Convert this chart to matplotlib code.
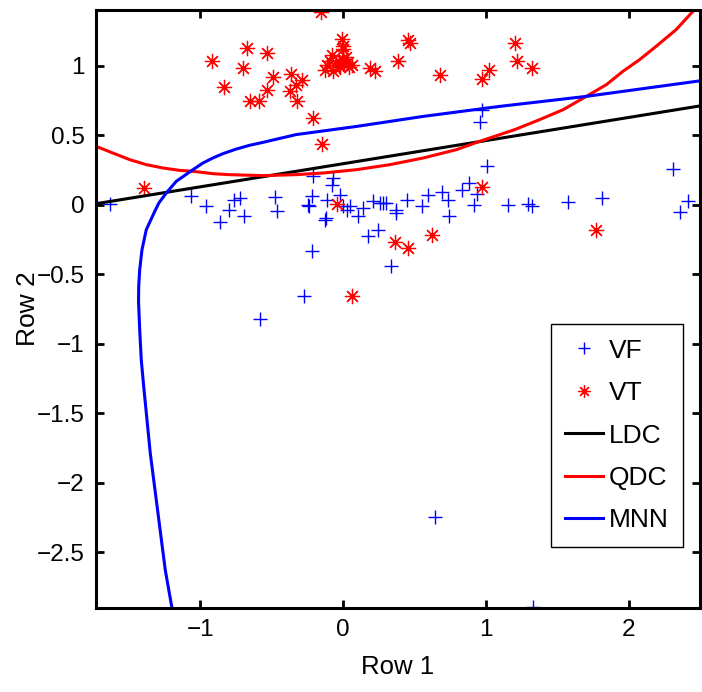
import matplotlib
matplotlib.use("Agg")
import matplotlib.pyplot as plt
from matplotlib import font_manager
from matplotlib.ticker import FixedLocator, FuncFormatter

names = {f.name for f in font_manager.fontManager.ttflist}
fam = ['Liberation Sans Narrow', 'Liberation Sans', 'DejaVu Sans']
fam = [f for f in fam if f in names] or ['DejaVu Sans']
plt.rcParams['font.family'] = fam

# VF (blue plus) points
vf_x = [-1.629, -1.063, -0.958, -0.860, -0.802, -0.767, -0.72, -0.697, -0.476, -0.459,
        -0.580, -0.273, -0.217, -0.126, -0.238, -0.219, -0.207, -0.068, -0.079, -0.114,
        -0.021, 0.002, 0.026, 0.049, 0.107, 0.142, 0.212, 0.259, 0.28, 0.30,
        0.371, 0.371, 0.445, 0.177, 0.247, 0.336, 0.555, 0.597, 0.694, 0.737,
        0.741, 0.83, 0.881, 0.935, 0.918, 1.009, 1.156, 1.296, 1.326, 1.576,
        1.813, 2.31, 2.357, 2.415, 0.970, 0.958, 0.643, 1.329, -0.245, -0.121]
vf_y = [0.005, 0.065, -0.012, -0.127, -0.041, 0.036, 0.048, -0.079, 0.055, -0.043,
        -0.822, -0.66, -0.336, -0.108, -0.012, 0.06, 0.204, 0.192, 0.144, 0.036,
        0.072, -0.012, -0.036, -0.012, -0.084, -0.024, 0.024, 0.012, 0.01, 0.012,
        -0.036, -0.06, 0.036, -0.228, -0.185, -0.439, -0.007, 0.067, 0.089, 0.031,
        -0.084, 0.108, 0.156, 0.079, 0.0, 0.276, -0.005, 0.005, -0.012, 0.019,
        0.048, 0.257, -0.053, 0.024, 0.678, 0.595, -2.245, -2.89, 0.0, -0.096]

# VT (red asterisk) points
vt_x = [-0.156, -0.005, 0.002, 0.457, 0.469, -0.669, -0.529, -0.918, 0.387, -0.701,
        0.189, 0.224, -0.492, -0.366, -0.284, -0.331, -0.837, -0.534, -0.371, -0.65,
        -0.587, -0.319, -0.207, -0.149, -1.396, -0.044, 0.678, 0.970, 1.023, 1.203,
        1.215, 1.324, 0.974, 1.769, 0.625, 0.364, 0.452, 0.061,
        -0.079, -0.114, -0.126, -0.068, 0.061, -0.05, -0.03, -0.01, 0.01, 0.03,
        -0.02, 0.0, 0.04, -0.09, 0.02, 0.002]
vt_y = [1.383, 1.19, 1.139, 1.187, 1.163, 1.127, 1.091, 1.036, 1.031, 0.983,
        0.983, 0.959, 0.919, 0.942, 0.899, 0.863, 0.847, 0.827, 0.815, 0.743,
        0.743, 0.743, 0.623, 0.439, 0.12, 0.007, 0.935, 0.906, 0.971, 1.163,
        1.031, 0.983, 0.127, -0.18, -0.216, -0.271, -0.312, -0.66,
        1.079, 1.007, 0.971, 0.959, 1.007, 1.02, 1.0, 1.04, 1.01, 1.02,
        0.99, 1.05, 0.99, 1.03, 1.06, 1.116]

# Decision boundaries
ldc_x = [-1.73, 2.51]
ldc_y = [0.007, 0.712]

qdc_x = [-1.73, -1.613, -1.494, -1.378, -1.261, -1.145, -1.051, -0.911, -0.795, -0.562,
         -0.329, -0.138, 0.096, 0.329, 0.562, 0.795, 0.958, 1.203, 1.378, 1.541,
         1.704, 1.844, 1.96, 2.077, 2.193, 2.333, 2.462]
qdc_y = [0.42, 0.372, 0.324, 0.288, 0.264, 0.247, 0.240, 0.223, 0.216, 0.209,
         0.216, 0.228, 0.252, 0.288, 0.336, 0.396, 0.456, 0.54, 0.612, 0.683,
         0.779, 0.863, 0.959, 1.043, 1.139, 1.259, 1.403]

mnn_x = [-1.198, -1.245, -1.29, -1.35, -1.396, -1.413, -1.424, -1.432, -1.431, -1.424,
         -1.408, -1.378, -1.324, -1.29, -1.238, -1.168, -1.051, -0.981, -0.911, -0.841,
         -0.748, -0.655, -0.562, -0.329, 0.096, 0.562, 1.098, 1.704, 2.51]
mnn_y = [-2.9, -2.626, -2.266, -1.786, -1.307, -1.115, -0.899, -0.70, -0.588, -0.468,
         -0.324, -0.18, -0.06, 0.012, 0.084, 0.168, 0.252, 0.30, 0.336, 0.367,
         0.40, 0.427, 0.448, 0.504, 0.563, 0.635, 0.707, 0.779, 0.892]

x_ticks = [-1, 0, 1, 2]
y_ticks = [-2.5, -2, -1.5, -1, -0.5, 0, 0.5, 1]

fig = plt.figure(figsize=(7.02, 6.92), dpi=100)
ax = fig.add_axes([96/702, 1 - 608/692, 604/702, 598/692])

ax.plot(vf_x, vf_y, linestyle='none', marker='+', color='#0000ff', markersize=10,
        markeredgewidth=1.0, label='VF')
ax.plot(vt_x, vt_y, linestyle='none', marker=(8, 2, 0), color='#ff0000', markersize=11,
        markeredgewidth=0.9, label='VT')
ax.plot(ldc_x, ldc_y, color='black', linewidth=2.2, label='LDC', solid_joinstyle='round')
ax.plot(qdc_x, qdc_y, color='#ff0000', linewidth=2.2, label='QDC', solid_joinstyle='round')
ax.plot(mnn_x, mnn_y, color='#0000ff', linewidth=2.2, label='MNN', solid_joinstyle='round')

ax.set_xlim(-1.73, 2.5)
ax.set_ylim(-2.9, 1.4)
ax.xaxis.set_major_locator(FixedLocator(x_ticks))
ax.yaxis.set_major_locator(FixedLocator(y_ticks))
fmt = FuncFormatter(lambda v, p: ('%g' % v).replace('-', '\u2212'))
ax.xaxis.set_major_formatter(fmt)
ax.yaxis.set_major_formatter(fmt)
ax.tick_params(direction='in', length=6, width=2, top=True, right=True,
               labelsize=17.5, pad=8)
for s in ax.spines.values():
    s.set_linewidth(2.2)
ax.set_xlabel('Row 1', fontsize=18.5, labelpad=10)
ax.set_ylabel('Row 2', fontsize=19, labelpad=-2)

leg = ax.legend(loc='lower right', bbox_to_anchor=(0.972, 0.102), fontsize=19,
                frameon=True, fancybox=False, edgecolor='black', framealpha=1,
                handlelength=1.45, handletextpad=0.2, labelspacing=0.7,
                borderpad=0.55, borderaxespad=0, markerscale=0.8)
leg.get_frame().set_linewidth(1.0)

fig.savefig('out.png', dpi=100)
